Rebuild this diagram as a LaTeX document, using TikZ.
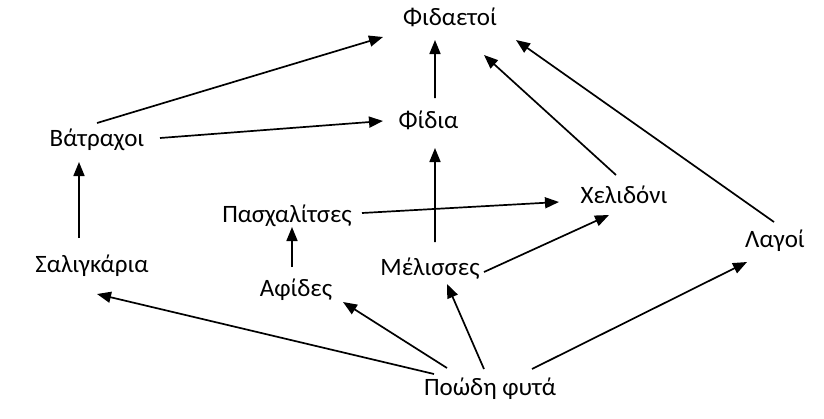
\documentclass[tikz,border=0pt]{standalone}
\usepackage{fontspec}
\setmainfont{Carlito}
\usetikzlibrary{arrows.meta}
\tikzset{
  label/.style={anchor=base, inner sep=0pt, font=\fontsize{25bp}{29bp}\selectfont},
  arr/.style={-{Triangle[length=14bp,width=11bp]}, line width=1.7bp, black}
}
\begin{document}
\begin{tikzpicture}[x=1bp, y=-1bp]
  \fill[white] (0,0) rectangle (824,418);
  \useasboundingbox (0,0) rectangle (824,418);

  % species, placed by the middle of their baseline
  \node[label] (fid)   at (450,25)   {Φιδαετοί};
  \node[label] (fidia) at (428.5,128) {Φίδια};
  \node[label] (bat)   at (97,146)   {Βάτραχοι};
  \node[label] (pas)   at (287,222)  {Πασχαλίτσες};
  \node[label] (xel)   at (624,203)  {Χελιδόνι};
  \node[label] (lag)   at (775,247)  {Λαγοί};
  \node[label] (sal)   at (92,272)   {Σαλιγκάρια};
  \node[label] (mel)   at (430,275)  {Μέλισσες};
  \node[label] (afi)   at (296,296)  {Αφίδες};
  \node[label] (poa)   at (490,395)  {Ποώδη φυτά};

  % who is eaten by whom
  \draw[arr] ([shift={(0,-23)}]bat.base)    -- ([shift={(-67,12)}]fid.base);
  \draw[arr] ([shift={(63,-8)}]bat.base)    -- ([shift={(-45.5,-7)}]fidia.base);
  \draw[arr] ([shift={(6.5,-30)}]fidia.base) -- ([shift={(-15,15)}]fid.base);
  \draw[arr] ([shift={(-13,-34)}]sal.base)  -- ([shift={(-18,16)}]bat.base);
  \draw[arr] ([shift={(-4,-29)}]afi.base)   -- ([shift={(5,5)}]pas.base);
  \draw[arr] ([shift={(75,-9)}]pas.base)    -- ([shift={(-65,-1)}]xel.base);
  \draw[arr] ([shift={(5,-33)}]mel.base)    -- ([shift={(6.5,20)}]fidia.base);
  \draw[arr] ([shift={(54,-3)}]mel.base)    -- ([shift={(-15,12)}]xel.base);
  \draw[arr] ([shift={(-8,-28)}]xel.base)   -- ([shift={(34,30)}]fid.base);
  \draw[arr] ([shift={(-1,-25)}]lag.base)   -- ([shift={(66,15)}]fid.base);
  \draw[arr] ([shift={(-56,-21)}]poa.base)  -- ([shift={(5,22)}]sal.base);
  \draw[arr] ([shift={(-43,-27)}]poa.base)  -- ([shift={(47,6)}]afi.base);
  \draw[arr] ([shift={(-6,-26)}]poa.base)   -- ([shift={(17,9)}]mel.base);
  \draw[arr] ([shift={(42,-26)}]poa.base)   -- ([shift={(-28,15)}]lag.base);
\end{tikzpicture}
\end{document}
